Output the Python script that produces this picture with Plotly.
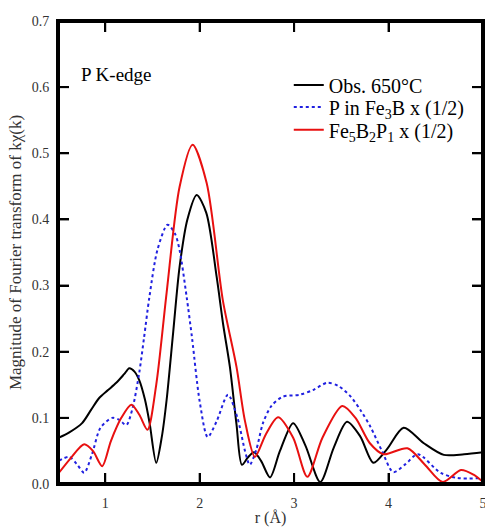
import plotly.graph_objects as go

# Observed 650C
obs_r = [0.51, 0.62, 0.755, 0.85, 0.936, 1.03, 1.117, 1.2, 1.255, 1.31, 1.36, 1.42, 1.47, 1.54, 1.6, 1.65, 1.72, 1.787, 1.87, 1.968, 2.07, 2.18, 2.25, 2.32, 2.39, 2.447, 2.51, 2.575, 2.65, 2.745, 2.85, 2.99, 3.12, 3.277, 3.42, 3.56, 3.7, 3.84, 3.98, 4.16, 4.37, 4.585, 4.8, 5.0]
obs_v = [0.070, 0.078, 0.092, 0.112, 0.130, 0.142, 0.153, 0.166, 0.175, 0.170, 0.157, 0.128, 0.092, 0.032, 0.072, 0.127, 0.230, 0.328, 0.400, 0.437, 0.410, 0.313, 0.240, 0.177, 0.090, 0.029, 0.040, 0.048, 0.035, 0.010, 0.050, 0.092, 0.058, 0.003, 0.055, 0.094, 0.072, 0.032, 0.052, 0.085, 0.062, 0.044, 0.045, 0.048]

# P in Fe3B x (1/2)
fe3b_r = [0.51, 0.617, 0.70, 0.777, 0.86, 0.95, 1.074, 1.15, 1.223, 1.29, 1.36, 1.41, 1.468, 1.553, 1.66, 1.74, 1.787, 1.862, 1.92, 2.0, 2.085, 2.18, 2.30, 2.40, 2.48, 2.53, 2.60, 2.67, 2.76, 2.88, 3.06, 3.2, 3.35, 3.47, 3.6, 3.71, 3.81, 3.93, 4.05, 4.18, 4.31, 4.55, 4.73, 5.0]
fe3b_v = [0.035, 0.041, 0.030, 0.017, 0.045, 0.085, 0.100, 0.097, 0.089, 0.115, 0.168, 0.220, 0.283, 0.354, 0.392, 0.378, 0.354, 0.283, 0.220, 0.125, 0.071, 0.095, 0.135, 0.100, 0.050, 0.029, 0.052, 0.092, 0.118, 0.132, 0.135, 0.142, 0.153, 0.148, 0.132, 0.110, 0.086, 0.050, 0.018, 0.030, 0.045, 0.017, 0.009, 0.009]

# Fe5B2P1 x (1/2)
fe5_r = [0.51, 0.64, 0.777, 0.87, 0.968, 1.06, 1.17, 1.277, 1.36, 1.447, 1.54, 1.65, 1.787, 1.925, 2.074, 2.245, 2.39, 2.48, 2.585, 2.70, 2.83, 2.99, 3.14, 3.3, 3.51, 3.65, 3.80, 3.947, 4.20, 4.38, 4.574, 4.766, 4.9, 5.0]
fe5_v = [0.017, 0.040, 0.060, 0.050, 0.027, 0.065, 0.100, 0.120, 0.105, 0.082, 0.150, 0.289, 0.449, 0.513, 0.455, 0.278, 0.177, 0.095, 0.041, 0.075, 0.101, 0.070, 0.011, 0.070, 0.118, 0.100, 0.062, 0.045, 0.054, 0.030, 0.003, 0.021, 0.014, 0.003]

x_ticks = [1, 2, 3, 4, 5]
y_ticks = [0.0, 0.1, 0.2, 0.3, 0.4, 0.5, 0.6, 0.7]
y_labels = ["0.0", "0.1", "0.2", "0.3", "0.4", "0.5", "0.6", "0.7"]

x_range = [0.5, 5.0]
y_range = [0.0, 0.7]

FONT = "Liberation Serif"
TXT = "#333333"

W, H = 485, 527
M = dict(l=58, r=2, t=21, b=43)
plot_w = W - M["l"] - M["r"]
plot_h = H - M["t"] - M["b"]
TICK_PX = 11
tick_dy = (y_range[1] - y_range[0]) * TICK_PX / plot_h
tick_dx = (x_range[1] - x_range[0]) * TICK_PX / plot_w

fig = go.Figure()
fig.add_trace(go.Scatter(x=obs_r, y=obs_v, mode="lines", name="Obs. 650°C", legend="legend",
                         line=dict(color="black", width=2, shape="spline", smoothing=0.8)))
fig.add_trace(go.Scatter(x=fe3b_r, y=fe3b_v, mode="lines", name="P in Fe<sub>3</sub>B x (1/2)", legend="legend2",
                         line=dict(color="#2020e0", width=2, dash="dot", shape="spline", smoothing=0.8)))
fig.add_trace(go.Scatter(x=fe5_r, y=fe5_v, mode="lines", name="Fe<sub>5</sub>B<sub>2</sub>P<sub>1</sub> x (1/2)", legend="legend3",
                         line=dict(color="#e81010", width=2, shape="spline", smoothing=0.8)))

# Plot frame and tick marks, built from the axis ranges and tick arrays
frame_x = [x_range[0], x_range[1], x_range[1], x_range[0], x_range[0]]
frame_y = [y_range[0], y_range[0], y_range[1], y_range[1], y_range[0]]
fig.add_trace(go.Scatter(x=frame_x, y=frame_y, mode="lines", showlegend=False, hoverinfo="skip",
                         line=dict(color="black", width=4)))
tx, ty = [], []
for t in x_ticks:
    tx += [t, t, None, t, t, None]
    ty += [y_range[0], y_range[0] + tick_dy, None, y_range[1], y_range[1] - tick_dy, None]
for t in y_ticks:
    tx += [x_range[0], x_range[0] + tick_dx, None, x_range[1], x_range[1] - tick_dx, None]
    ty += [t, t, None, t, t, None]
fig.add_trace(go.Scatter(x=tx, y=ty, mode="lines", showlegend=False, hoverinfo="skip",
                         line=dict(color="black", width=2)))

fig.add_annotation(x=0.05, y=0.885, xref="paper", yref="paper", text="P K-edge", showarrow=False,
                   xanchor="left", yanchor="middle", font=dict(family=FONT, size=19, color="black"))

leg_common = dict(xanchor="left", yanchor="middle", bgcolor="rgba(0,0,0,0)",
                  font=dict(family=FONT, size=20, color="black"), itemwidth=30)

axis_common = dict(ticks="inside", ticklen=TICK_PX, tickwidth=2, tickcolor="black",
                   showline=True, linecolor="black", linewidth=2, mirror="ticks",
                   showgrid=False, zeroline=False, automargin=False, ticklabeloverflow="allow",
                   tickfont=dict(family=FONT, size=14, color=TXT))

fig.update_layout(
    width=W, height=H,
    margin=M,
    plot_bgcolor="white",
    font=dict(family=FONT, size=14, color=TXT),
    showlegend=True,
    legend=dict(x=0.543, y=0.862, **leg_common),
    legend2=dict(x=0.543, y=0.814, **leg_common),
    legend3=dict(x=0.543, y=0.765, **leg_common),
    xaxis=dict(range=x_range, tickvals=x_ticks, ticklabelstandoff=5,
               title=dict(text="r (Å)", font=dict(family=FONT, size=16, color=TXT), standoff=4),
               **axis_common),
    yaxis=dict(range=y_range, tickvals=y_ticks, ticktext=y_labels, ticklabelstandoff=4,
               title=dict(text="Magnitude of Fourier transform of kχ(k)", font=dict(family=FONT, size=17, color=TXT), standoff=6),
               **axis_common),
)

fig.write_html("out.html", config={"displayModeBar": False},
               post_script="document.body.style.margin='0';document.body.style.padding='0';")
